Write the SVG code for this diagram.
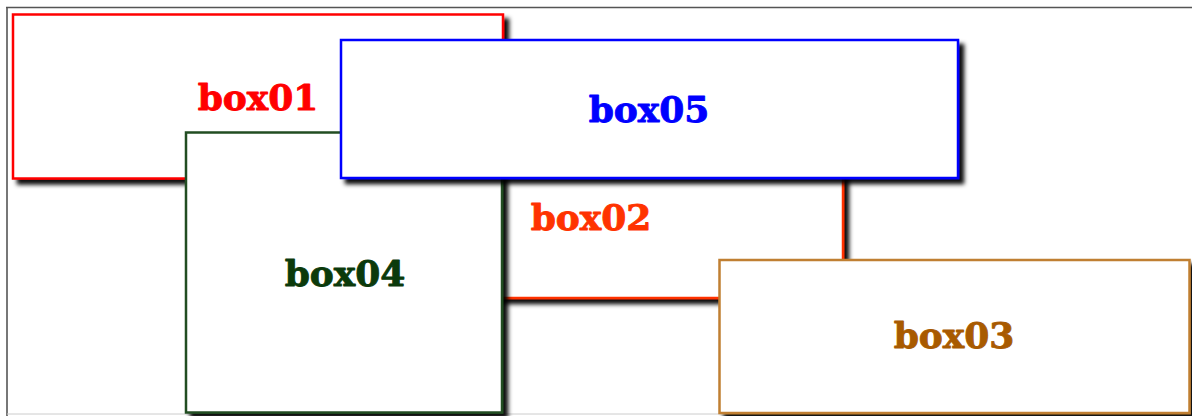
<svg xmlns="http://www.w3.org/2000/svg" width="1192" height="416" viewBox="0 0 1192 416">
<defs>
<filter id="sh" x="-10%" y="-10%" width="125%" height="130%">
<feDropShadow dx="5" dy="5" stdDeviation="2.3" flood-color="#000" flood-opacity="0.95"/>
</filter>
<style>
.box{fill:#fff;stroke-width:2.5;filter:url(#sh)}
.lbl{font-family:"DejaVu Serif",serif;font-weight:bold;font-size:36px;text-anchor:middle;stroke-width:0.9;stroke-linejoin:round}
</style>
</defs>
<rect x="0" y="0" width="1192" height="416" fill="#fff"/>
<g id="frame">
<line x1="6" y1="7.5" x2="1192" y2="7.5" stroke="#555" stroke-width="1.6"/>
<line x1="7" y1="7" x2="7" y2="416" stroke="#555" stroke-width="1.6"/>
<line x1="7" y1="414" x2="1192" y2="414" stroke="#ccc" stroke-width="1"/>
</g>
<g id="connectors"></g>
<g id="box01">
<rect class="box" x="13" y="14.5" width="490" height="164" stroke="#ff0000"/>
<text class="lbl" x="258" y="110" fill="#ff0000" stroke="#ff0000">box01</text>
</g>
<g id="box02">
<rect class="box" x="339" y="134" width="504" height="164" stroke="#ff3300"/>
<text class="lbl" x="591" y="230" fill="#ff3300" stroke="#ff3300">box02</text>
</g>
<g id="box03">
<rect class="box" x="719.5" y="260" width="470" height="153" stroke="#c07f30"/>
<text class="lbl" x="954" y="348" fill="#a85a00" stroke="#a85a00">box03</text>
</g>
<g id="box04">
<rect class="box" x="186" y="132.5" width="316" height="280" stroke="#234d23"/>
<text class="lbl" x="345" y="286" fill="#0b3a0b" stroke="#0b3a0b">box04</text>
</g>
<g id="box05">
<rect class="box" x="341" y="40" width="617" height="138" stroke="#0000ff"/>
<text class="lbl" x="649" y="122" fill="#0000ff" stroke="#0000ff">box05</text>
</g>
</svg>
